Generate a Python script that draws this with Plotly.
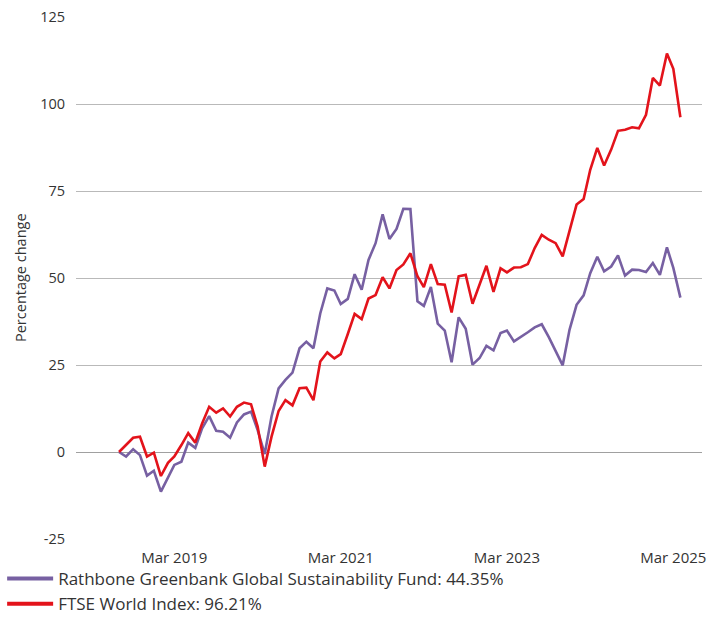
import pandas as pd
import plotly.graph_objects as go

months = pd.date_range("2018-07-01", periods=82, freq="MS")

fund_name = "Rathbone Greenbank Global Sustainability Fund: 44.35%"
index_name = "FTSE World Index: 96.21%"

fund = [0, -1.3, 0.8, -0.9, -6.8, -5.4, -11.4, -7.4, -3.7, -2.8,
        2.7, 1.2, 6.8, 10.3, 6.1, 5.8, 4.1, 8.5, 10.8, 11.6,
        6.3, -0.6, 10.2, 18.3, 20.7, 22.8, 29.8, 31.7, 29.8, 39.8,
        47.0, 46.4, 42.5, 44.0, 51.1, 46.6, 55.2, 60.0, 68.3, 61.2,
        64.1, 69.9, 69.8, 43.3, 42.0, 47.4, 36.9, 34.9, 25.8, 38.7,
        35.4, 25.1, 27.0, 30.5, 29.2, 34.2, 34.9, 31.8, 33.0, 34.4,
        35.8, 36.7, 33.0, 28.8, 24.9, 35.1, 42.3, 45.0, 51.4, 56.1,
        51.9, 53.3, 56.5, 50.7, 52.4, 52.3, 51.7, 54.3, 50.9, 58.8,
        52.9, 44.35]

ftse = [0, 2.0, 4.1, 4.4, -1.3, -0.2, -6.9, -3.1, -1.3, 2.0,
        5.4, 2.7, 8.2, 13.0, 11.3, 12.5, 10.2, 13.0, 14.2, 13.7,
        7.3, -4.2, 4.4, 11.8, 14.9, 13.4, 18.3, 18.5, 14.9, 26.0,
        28.6, 26.9, 28.1, 33.9, 39.7, 38.2, 44.1, 45.1, 50.2, 47.0,
        52.3, 53.9, 57.1, 50.5, 47.4, 54.0, 48.3, 48.1, 40.1, 50.5,
        50.9, 42.6, 48.1, 53.5, 46.0, 52.8, 51.6, 53.0, 53.1, 54.0,
        58.6, 62.4, 61.0, 60.0, 56.2, 63.9, 71.1, 72.7, 81.1, 87.4,
        82.3, 86.9, 92.3, 92.6, 93.3, 93.0, 96.9, 107.5, 105.3, 114.5,
        110.1, 96.21]

y_ticks = [-25, 0, 25, 50, 75, 100, 125]
y_tick_text = ["-25", "0", "25", "50", "75", "100", "125"]
x_ticks = ["2019-03-01", "2021-03-01", "2023-03-01", "2025-03-01"]
x_tick_text = ["Mar 2019", "Mar 2021", "Mar 2023", "Mar 2025"]

PURPLE = "#7760a2"
RED = "#e3131b"
GRID = "#b9b9b9"
TEXT = "#333333"
FONT = "Open Sans"

fig = go.Figure()
fig.add_trace(go.Scatter(x=months, y=fund, mode="lines",
                         line=dict(color=PURPLE, width=2.6), showlegend=False))
fig.add_trace(go.Scatter(x=months, y=ftse, mode="lines",
                         line=dict(color=RED, width=2.6), showlegend=False))
# legend entries
fig.add_trace(go.Scatter(x=[None], y=[None], mode="lines", name=fund_name,
                         line=dict(color=PURPLE, width=4)))
fig.add_trace(go.Scatter(x=[None], y=[None], mode="lines", name=index_name,
                         line=dict(color=RED, width=4)))

fig.update_layout(
    width=711, height=622,
    margin=dict(l=76, r=9, t=17, b=83),
    paper_bgcolor="white", plot_bgcolor="white",
    font=dict(family=FONT, color=TEXT, size=14),
    xaxis=dict(
        type="date",
        range=["2017-12-24", "2025-07-05"],
        tickvals=x_ticks, ticktext=x_tick_text, tickangle=0,
        showgrid=False, zeroline=False, showline=False, ticks="",
        tickfont=dict(size=15, color=TEXT), ticklabelstandoff=8,
        ticklabeloverflow="allow", automargin=False,
    ),
    yaxis=dict(
        range=[-25, 125],
        tickvals=y_ticks, ticktext=y_tick_text,
        showgrid=True, gridcolor=GRID, gridwidth=1,
        zeroline=True, zerolinecolor="#a0a0a0", zerolinewidth=1,
        showline=False, ticks="",
        tickfont=dict(size=14.5, color=TEXT), ticklabelstandoff=10,
        ticklabeloverflow="allow", automargin=False,
    ),
    legend=dict(
        xref="container", yref="container",
        x=0.003, y=-0.017, xanchor="left", yanchor="bottom",
        orientation="h", entrywidthmode="fraction", entrywidth=0.98,
        font=dict(size=17, color=TEXT),
        bgcolor="rgba(0,0,0,0)", itemwidth=46, tracegroupgap=0,
    ),
    annotations=[dict(
        text="Percentage change", textangle=-90,
        xref="paper", yref="paper", x=0, y=0.5,
        xanchor="center", yanchor="middle", xshift=-56,
        showarrow=False, font=dict(size=14.5, color=TEXT),
    )],
)

fig.write_html("out.html", config={"displayModeBar": False},
               post_script="document.body.style.margin='0';")
